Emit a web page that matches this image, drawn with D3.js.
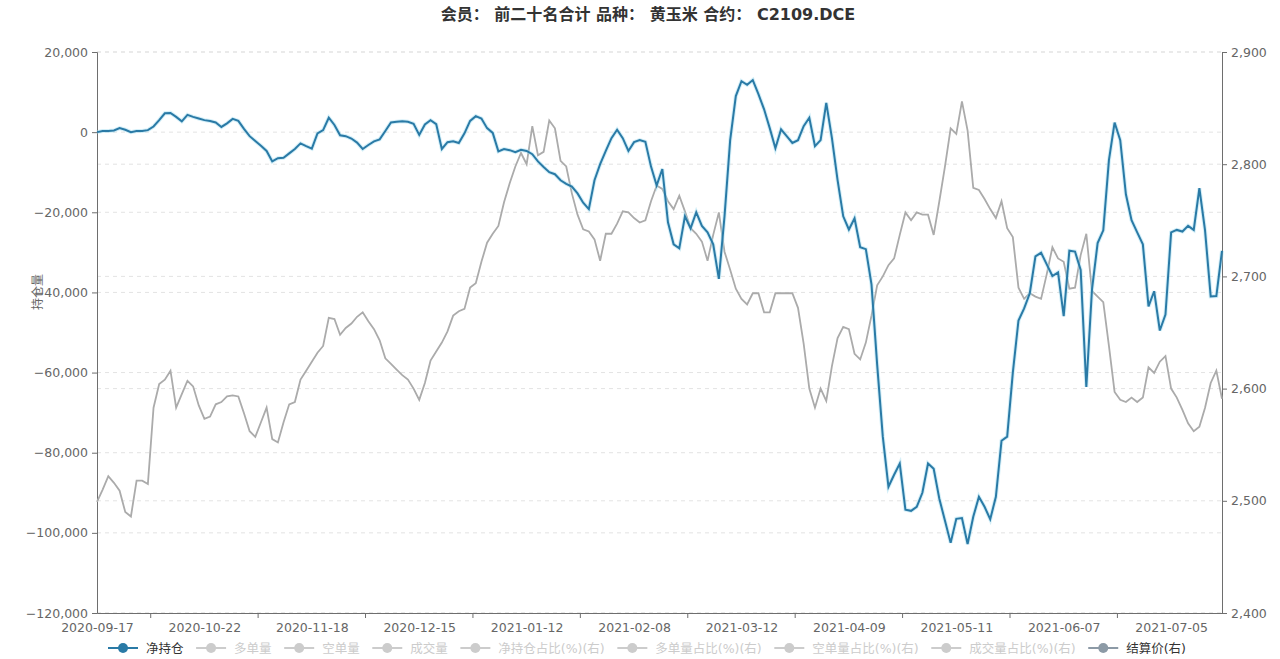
<!DOCTYPE html>
<html><head><meta charset="utf-8">
<script src="https://cdn.jsdelivr.net/npm/d3@7/dist/d3.min.js"></script>
<style>
html,body{margin:0;padding:0;background:#fff;}
svg text{font-family:"DejaVu Sans","Noto Sans CJK SC",sans-serif;}
</style></head>
<body><svg id="c" width="1280" height="659"></svg>
<script>
const dates = ["2020-09-17","2020-09-18","2020-09-21","2020-09-22","2020-09-23","2020-09-24","2020-09-25","2020-09-28","2020-09-29","2020-09-30",
"2020-10-09","2020-10-12","2020-10-13","2020-10-14","2020-10-15","2020-10-16","2020-10-19","2020-10-20","2020-10-21","2020-10-22",
"2020-10-23","2020-10-26","2020-10-27","2020-10-28","2020-10-29","2020-10-30","2020-11-02","2020-11-03","2020-11-04","2020-11-05",
"2020-11-06","2020-11-09","2020-11-10","2020-11-11","2020-11-12","2020-11-13","2020-11-16","2020-11-17","2020-11-18","2020-11-19",
"2020-11-20","2020-11-23","2020-11-24","2020-11-25","2020-11-26","2020-11-27","2020-11-30","2020-12-01","2020-12-02","2020-12-03",
"2020-12-04","2020-12-07","2020-12-08","2020-12-09","2020-12-10","2020-12-11","2020-12-14","2020-12-15","2020-12-16","2020-12-17",
"2020-12-18","2020-12-21","2020-12-22","2020-12-23","2020-12-24","2020-12-25","2020-12-28","2020-12-29","2020-12-30","2020-12-31",
"2021-01-04","2021-01-05","2021-01-06","2021-01-07","2021-01-08","2021-01-11","2021-01-12","2021-01-13","2021-01-14","2021-01-15",
"2021-01-18","2021-01-19","2021-01-20","2021-01-21","2021-01-22","2021-01-25","2021-01-26","2021-01-27","2021-01-28","2021-01-29",
"2021-02-01","2021-02-02","2021-02-03","2021-02-04","2021-02-05","2021-02-08","2021-02-09","2021-02-10","2021-02-18","2021-02-19",
"2021-02-22","2021-02-23","2021-02-24","2021-02-25","2021-02-26","2021-03-01","2021-03-02","2021-03-03","2021-03-04","2021-03-05",
"2021-03-08","2021-03-09","2021-03-10","2021-03-11","2021-03-12","2021-03-15","2021-03-16","2021-03-17","2021-03-18","2021-03-19",
"2021-03-22","2021-03-23","2021-03-24","2021-03-25","2021-03-26","2021-03-29","2021-03-30","2021-03-31","2021-04-01","2021-04-02",
"2021-04-06","2021-04-07","2021-04-08","2021-04-09","2021-04-12","2021-04-13","2021-04-14","2021-04-15","2021-04-16","2021-04-19",
"2021-04-20","2021-04-21","2021-04-22","2021-04-23","2021-04-26","2021-04-27","2021-04-28","2021-04-29","2021-04-30","2021-05-06",
"2021-05-07","2021-05-10","2021-05-11","2021-05-12","2021-05-13","2021-05-14","2021-05-17","2021-05-18","2021-05-19","2021-05-20",
"2021-05-21","2021-05-24","2021-05-25","2021-05-26","2021-05-27","2021-05-28","2021-05-31","2021-06-01","2021-06-02","2021-06-03",
"2021-06-04","2021-06-07","2021-06-08","2021-06-09","2021-06-10","2021-06-11","2021-06-15","2021-06-16","2021-06-17","2021-06-18",
"2021-06-21","2021-06-22","2021-06-23","2021-06-24","2021-06-25","2021-06-28","2021-06-29","2021-06-30","2021-07-01","2021-07-02",
"2021-07-05","2021-07-06","2021-07-07","2021-07-08","2021-07-09","2021-07-12","2021-07-13","2021-07-14","2021-07-15","2021-07-16"];

const netPosition = [0,300,300,400,1000,600,0,300,300,500,
1400,3000,4700,4800,3800,2700,4300,3800,3400,3000,
2800,2400,1300,2200,3300,2800,800,-1000,-2200,-3400,
-4700,-7300,-6500,-6400,-5300,-4200,-2800,-3500,-4100,-300,
500,3600,1800,-800,-1000,-1600,-2600,-4200,-3200,-2300,
-1800,300,2400,2600,2700,2600,2100,-700,1900,3000,
2000,-4200,-2500,-2300,-2700,-300,2800,4000,3400,1000,
-200,-4800,-4200,-4500,-5000,-4400,-4700,-5500,-7300,-8700,
-10000,-10500,-12000,-12900,-13600,-15300,-17600,-19200,-12000,-8000,
-4700,-1500,600,-1500,-4700,-2500,-2000,-2400,-8600,-13300,
-9200,-22500,-28000,-29000,-21000,-24000,-20000,-23400,-25000,-28000,
-36600,-21000,-2000,9000,12700,11800,13000,9500,5700,1000,
-4000,700,-1000,-2700,-2000,1500,3600,-3500,-2000,7300,
-1500,-12000,-21000,-24300,-21500,-28700,-29200,-38000,-58000,-76000,
-88500,-85500,-82700,-94200,-94500,-93500,-90000,-82700,-84000,-91500,
-97000,-102500,-96500,-96300,-102800,-96000,-91000,-93500,-96600,-91000,
-77000,-76000,-60000,-47000,-44000,-40200,-31000,-30100,-33000,-35900,
-35000,-45900,-29600,-29800,-34400,-63600,-39300,-27700,-24500,-7000,
2400,-2000,-15500,-22000,-25000,-28000,-43500,-39700,-49500,-45500,
-25000,-24400,-24800,-23400,-24400,-14000,-24500,-41000,-40900,-29600];

const settlePrice = [2499,2510,2522,2516,2509,2490,2486,2518,2518,2515,
2583,2604,2608,2616,2583,2595,2607,2602,2585,2573,
2575,2586,2588,2593,2594,2593,2578,2562,2557,2570,
2583,2555,2552,2570,2586,2588,2608,2616,2624,2632,
2638,2663,2662,2648,2654,2658,2664,2668,2660,2653,
2643,2627,2622,2617,2612,2608,2600,2590,2605,2625,
2633,2641,2651,2665,2669,2671,2690,2694,2713,2730,
2738,2745,2766,2783,2798,2810,2800,2834,2808,2811,
2839,2832,2803,2798,2774,2755,2742,2740,2733,2714,
2738,2738,2747,2758,2757,2752,2748,2750,2767,2781,
2778,2767,2760,2772,2758,2743,2738,2731,2714,2737,
2757,2722,2706,2689,2680,2675,2685,2685,2668,2668,
2685,2685,2685,2685,2672,2640,2600,2583,2600,2589,
2620,2645,2655,2653,2631,2626,2641,2665,2692,2700,
2710,2716,2737,2757,2750,2757,2755,2755,2737,2767,
2798,2832,2827,2856,2830,2779,2777,2769,2760,2752,
2767,2743,2735,2690,2680,2685,2682,2680,2702,2726,
2716,2713,2689,2690,2719,2738,2687,2682,2677,2638,
2597,2590,2588,2592,2588,2592,2619,2614,2624,2629,
2600,2592,2581,2569,2562,2566,2583,2605,2616,2591];

const leftTicks = [20000,0,-20000,-40000,-60000,-80000,-100000,-120000];
const rightTicks = [2900,2800,2700,2600,2500,2400];
const legendNames = ["净持仓","多单量","空单量","成交量","净持仓占比(%)(右)","多单量占比(%)(右)","空单量占比(%)(右)","成交量占比(%)(右)","结算价(右)"];
const legendActive = [true,false,false,false,false,false,false,false,true];
const titleText = "会员：  前二十名合计 品种：  黄玉米 合约：  C2109.DCE";
const yAxisName = "持仓量";

const L = 97, R = 1222, T = 52, B = 613;
const blue = "#2a7aa6", gray = "#ababab";
const svg = d3.select("#c");

const x = d3.scalePoint().domain(dates).range([L, R]);
const yL = d3.scaleLinear().domain([-120000, 20000]).range([B, T]);
const yR = d3.scaleLinear().domain([2400, 2900]).range([B, T]);
const fmt = d3.format(",");
const axisCol = "#6e6e6e", labCol = "#666";

// grid lines
const g = svg.append("g");
leftTicks.forEach(v => g.append("line").attr("x1", L).attr("x2", R).attr("y1", yL(v)).attr("y2", yL(v))
  .attr("stroke", "#e3e3e3").attr("stroke-dasharray", "4,4"));
rightTicks.forEach(v => g.append("line").attr("x1", L).attr("x2", R).attr("y1", yR(v)).attr("y2", yR(v))
  .attr("stroke", "#e3e3e3").attr("stroke-dasharray", "4,4"));

// left axis
const ax = d3.axisLeft(yL).tickValues(leftTicks).tickFormat(fmt).tickSize(5).tickPadding(4);
const gl = svg.append("g").attr("transform", `translate(${L},0)`).call(ax);
gl.select(".domain").attr("stroke", axisCol);
gl.selectAll(".tick line").attr("stroke", axisCol);
gl.selectAll("text").attr("fill", labCol).style("font-size", "12.5px");

// right axis
const ar = d3.axisRight(yR).tickValues(rightTicks).tickFormat(fmt).tickSize(5).tickPadding(4);
const gr = svg.append("g").attr("transform", `translate(${R},0)`).call(ar);
gr.select(".domain").attr("stroke", axisCol);
gr.selectAll(".tick line").attr("stroke", axisCol);
gr.selectAll("text").attr("fill", labCol).style("font-size", "12.5px");

// bottom axis
const labelIdx = d3.range(0, dates.length, 19);
const axb = d3.axisBottom(x).tickValues(labelIdx.map(i => dates[i])).tickSize(0).tickPadding(10);
const gb = svg.append("g").attr("transform", `translate(0,${B})`).call(axb);
gb.select(".domain").attr("stroke", axisCol);
gb.selectAll("text").attr("fill", labCol).style("font-size", "12.5px");
labelIdx.forEach(i => {
  if (i + 10 < dates.length) {
    const tx = (x(dates[i + 9]) + x(dates[i + 10])) / 2;
    gb.append("line").attr("x1", tx).attr("x2", tx).attr("y1", 0).attr("y2", 5).attr("stroke", axisCol);
  }
});

// lines
const lineL = d3.line().x((d, i) => x(dates[i])).y(d => yL(d));
const lineR = d3.line().x((d, i) => x(dates[i])).y(d => yR(d));
svg.append("path").datum(settlePrice).attr("d", lineR).attr("fill", "none").attr("stroke", gray).attr("stroke-width", 1.8);
svg.append("path").datum(netPosition).attr("d", lineL).attr("fill", "none").attr("stroke", "#9fdcf0").attr("stroke-width", 4).attr("opacity", 0.45);
svg.append("path").datum(netPosition).attr("d", lineL).attr("fill", "none").attr("stroke", blue).attr("stroke-width", 2);

// title
const title = svg.append("text").attr("x", 648).attr("y", 20).attr("text-anchor", "middle")
  .style("font-size", "14px").style("font-weight", "bold").attr("fill", "#333").text(titleText);
const tw = title.node().getComputedTextLength();
title.style("font-size", (14 * 415 / tw).toFixed(2) + "px");

// y axis name
svg.append("text").attr("transform", "translate(42,292) rotate(-90)").attr("text-anchor", "middle")
  .style("font-size", "12px").attr("fill", labCol).text(yAxisName);

// legend
const lg = svg.append("g");
const legendColors = legendNames.map((n, i) => i === 0 ? blue : (i === legendNames.length - 1 ? "#8c9aa6" : "#ccc"));
let items = [];
legendNames.forEach((n, i) => {
  const t = lg.append("text").style("font-size", "12.5px").text(n);
  items.push({t, w: t.node().getComputedTextLength()});
});
const iconW = 30, gapText = 8;
const spanL = 108, spanR = 1186;
const used = d3.sum(items, d => iconW + gapText + d.w);
const gapItem = Math.max(8, (spanR - spanL - used) / (items.length - 1));
let cx = spanL;
const ly = 648;
items.forEach((it, i) => {
  const col = legendColors[i];
  lg.append("line").attr("x1", cx).attr("x2", cx + iconW).attr("y1", ly).attr("y2", ly).attr("stroke", col).attr("stroke-width", 2);
  lg.append("circle").attr("cx", cx + iconW / 2).attr("cy", ly).attr("r", 5).attr("fill", col);
  it.t.attr("x", cx + iconW + gapText).attr("y", ly + 4.5).attr("fill", legendActive[i] ? "#333" : "#ccc");
  cx += iconW + gapText + it.w + gapItem;
});
</script></body></html>
